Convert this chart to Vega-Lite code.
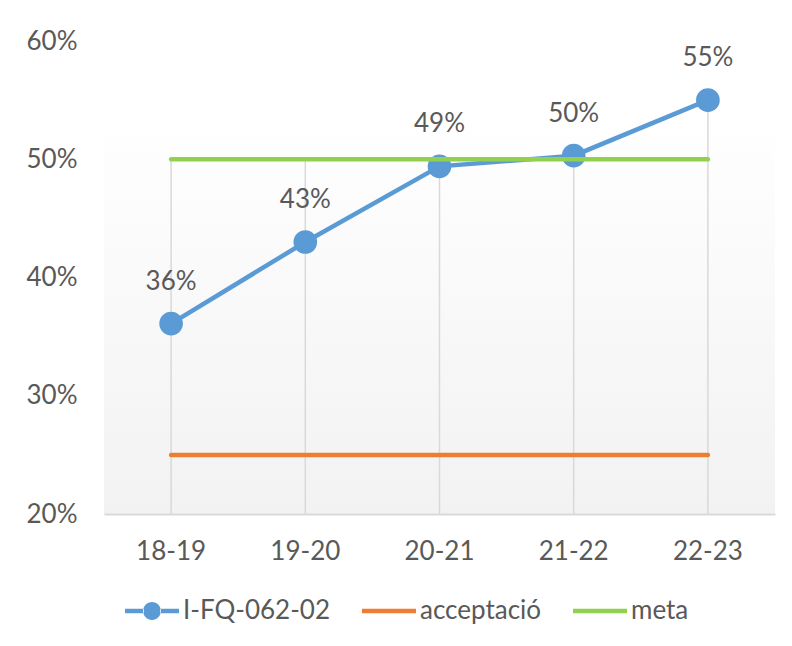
{
  "$schema": "https://vega.github.io/schema/vega-lite/v6.json",
  "width": 671,
  "height": 473,
  "autosize": {"type": "none"},
  "padding": {"left": 104, "top": 41, "right": 17, "bottom": 132},
  "background": "#ffffff",
  "config": {
    "font": "Lato",
    "view": {
      "stroke": null,
      "fill": {"gradient": "linear", "x1": 0, "y1": 0, "x2": 0, "y2": 1,
        "stops": [{"offset": 0, "color": "#ffffff"}, {"offset": 0.15, "color": "#ffffff"}, {"offset": 1, "color": "#f2f2f2"}]}
    },
    "axis": {"labelFont": "Lato", "labelFontSize": 26, "labelColor": "#595959", "ticks": false, "grid": false, "title": null}
  },
  "data": {
    "values": [
      {"period": "18-19", "series": "I-FQ-062-02", "value": 0.361},
      {"period": "19-20", "series": "I-FQ-062-02", "value": 0.43},
      {"period": "20-21", "series": "I-FQ-062-02", "value": 0.494},
      {"period": "21-22", "series": "I-FQ-062-02", "value": 0.503},
      {"period": "22-23", "series": "I-FQ-062-02", "value": 0.55},
      {"period": "18-19", "series": "acceptació", "value": 0.25},
      {"period": "19-20", "series": "acceptació", "value": 0.25},
      {"period": "20-21", "series": "acceptació", "value": 0.25},
      {"period": "21-22", "series": "acceptació", "value": 0.25},
      {"period": "22-23", "series": "acceptació", "value": 0.25},
      {"period": "18-19", "series": "meta", "value": 0.5},
      {"period": "19-20", "series": "meta", "value": 0.5},
      {"period": "20-21", "series": "meta", "value": 0.5},
      {"period": "21-22", "series": "meta", "value": 0.5},
      {"period": "22-23", "series": "meta", "value": 0.5}
    ]
  },
  "encoding": {
    "x": {
      "field": "period", "type": "nominal",
      "scale": {"type": "band", "paddingInner": 0, "paddingOuter": 0},
      "axis": {"labelAngle": 0, "labelPadding": 24, "domainColor": "#d9d9d9", "domainWidth": 2}
    }
  },
  "layer": [
    {
      "transform": [{"aggregate": [{"op": "max", "field": "value", "as": "top"}], "groupby": ["period"]}],
      "mark": {"type": "rule", "color": "#d9d9d9", "strokeWidth": 1.5},
      "encoding": {
        "y": {"field": "top", "type": "quantitative", "scale": {"domain": [0.2, 0.6]}},
        "y2": {"datum": 0.2}
      }
    },
    {
      "transform": [{"filter": "datum.series === 'I-FQ-062-02'"}],
      "mark": {"type": "line", "strokeWidth": 4.5, "strokeCap": "round"},
      "encoding": {
        "y": {"field": "value", "type": "quantitative",
          "scale": {"domain": [0.2, 0.6]},
          "axis": {"values": [0.2, 0.3, 0.4, 0.5, 0.6], "format": ".0%", "domain": false, "labelPadding": 27}},
        "color": {
          "field": "series", "type": "nominal",
          "scale": {"domain": ["I-FQ-062-02", "acceptació", "meta"], "range": ["#5b9bd5", "#ed7d31", "#92d050"]},
          "legend": {
            "title": null, "orient": "none", "direction": "horizontal",
            "legendX": 21, "legendY": 543, "padding": 0,
            "symbolSize": 2916, "labelFont": "Lato", "labelFontSize": 26, "labelColor": "#595959",
            "labelOffset": 4, "columnPadding": 31,
            "encode": {
              "symbols": {
                "update": {
                  "shape": {"signal": "datum.value === 'I-FQ-062-02' ? 'M-1,-0.083H-0.3V0.083H-1Z M0.3,-0.083H1V0.083H0.3Z M-0.33,0A0.33,0.33 0 1,0 0.33,0A0.33,0.33 0 1,0 -0.33,0Z' : 'M-1,-0.083H1V0.083H-1Z'"},
                  "fill": {"scale": "color", "field": "value"},
                  "stroke": {"value": "transparent"},
                  "strokeWidth": {"value": 0},
                  "opacity": {"value": 1}
                }
              }
            }
          }
        }
      }
    },
    {
      "transform": [{"filter": "datum.series === 'I-FQ-062-02'"}],
      "mark": {"type": "point", "filled": true, "opacity": 1, "size": 560, "color": "#5b9bd5"},
      "encoding": {"y": {"field": "value", "type": "quantitative"}}
    },
    {
      "transform": [{"filter": "datum.series !== 'I-FQ-062-02'"}],
      "mark": {"type": "line", "strokeWidth": 4.5, "strokeCap": "round"},
      "encoding": {
        "y": {"field": "value", "type": "quantitative"},
        "color": {"field": "series", "type": "nominal"},
        "detail": {"field": "series"}
      }
    },
    {
      "transform": [{"filter": "datum.series === 'I-FQ-062-02'"}],
      "mark": {"type": "text", "font": "Lato", "fontSize": 26, "color": "#595959", "baseline": "middle", "dy": -42},
      "encoding": {
        "y": {"field": "value", "type": "quantitative"},
        "text": {"field": "value", "type": "quantitative", "format": ".0%"}
      }
    }
  ]
}
